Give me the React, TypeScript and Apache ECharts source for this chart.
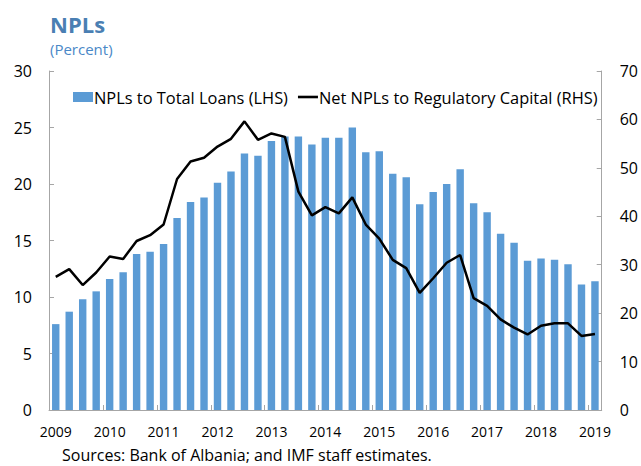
import React, { useEffect, useRef } from "react";
import * as echarts from "echarts";

const years = ["2009", "2010", "2011", "2012", "2013", "2014", "2015", "2016", "2017", "2018", "2019"];
const categories: string[] = [];
for (let i = 0; i < 41; i++) {
  categories.push(i % 4 === 0 ? years[i / 4] : years[Math.floor(i / 4)] + "Q" + ((i % 4) + 1));
}

const nplToLoans = [
  7.6, 8.7, 9.8, 10.5, 11.6, 12.2, 13.8, 14.0, 14.7, 17.0, 18.4, 18.8,
  20.1, 21.1, 22.7, 22.5, 23.8, 24.2, 24.2, 23.5, 24.1, 24.1, 25.0, 22.8,
  22.9, 20.9, 20.6, 18.2, 19.3, 20.0, 21.3, 18.3, 17.5, 15.6, 14.8, 13.2,
  13.4, 13.3, 12.9, 11.1, 11.4,
];

const netNplToCapital = [
  27.5, 29.1, 25.8, 28.4, 31.7, 31.2, 34.9, 36.1, 38.3, 47.7, 51.3, 52.1,
  54.4, 56.0, 59.6, 55.8, 57.1, 56.4, 45.1, 40.2, 41.9, 40.6, 43.9, 38.3,
  35.4, 31.0, 29.3, 24.2, 27.2, 30.4, 32.0, 23.1, 21.5, 18.7, 17.0, 15.6,
  17.4, 17.9, 17.9, 15.3, 15.7,
];

const FONT = "'Open Sans', 'Noto Sans', sans-serif";

export default function App() {
  const ref = useRef<HTMLDivElement>(null);
  useEffect(() => {
    document.body.style.margin = "0";
    const chart = echarts.init(ref.current!, null, { renderer: "svg" });
    const axisLine = { show: true, lineStyle: { color: "#a6a6a6", width: 1 } };
    const tick = { show: true, inside: true, length: 5, lineStyle: { color: "#a6a6a6" } };
    chart.setOption({
      animation: false,
      backgroundColor: "#ffffff",
      textStyle: { fontFamily: FONT },
      grid: { left: 49, right: 39, top: 71, bottom: 56, containLabel: false },
      graphic: [
        {
          type: "text",
          left: 50,
          top: 13,
          style: { text: "NPLs", fontFamily: FONT, fontWeight: "bold", fontSize: 22, fill: "#4a7fb3" },
        },
        {
          type: "text",
          left: 50,
          top: 41,
          style: { text: "(Percent)", fontFamily: FONT, fontSize: 15, fill: "#4a88c7" },
        },
        {
          type: "text",
          left: 62,
          top: 447,
          style: { text: "Sources: Bank of Albania; and IMF staff estimates.", fontFamily: FONT, fontSize: 16, fill: "#000" },
        },
      ],
      legend: {
        top: 84,
        left: 68,
        itemWidth: 20,
        itemHeight: 10,
        itemGap: 10,
        textStyle: { fontFamily: FONT, fontSize: 16.4, color: "#000", padding: [0, 0, 0, -4] },
        data: [
          { name: "NPLs to Total Loans (LHS)", icon: "rect" },
          { name: "Net NPLs to Regulatory Capital (RHS)", icon: "path://M0,0 L20,0 L20,2.6 L0,2.6 Z" },
        ],
      },
      xAxis: {
        type: "category",
        data: categories,
        boundaryGap: true,
        axisLine,
        axisTick: tick,
        axisLabel: {
          interval: 3,
          fontFamily: FONT,
          fontSize: 14,
          color: "#000",
          margin: 14,
          formatter: (v: string) => (v.indexOf("Q") >= 0 ? "" : v),
        },
        splitLine: { show: false },
      },
      yAxis: [
        {
          type: "value",
          min: 0,
          max: 30,
          interval: 5,
          position: "left",
          axisLine,
          axisTick: tick,
          axisLabel: { fontFamily: FONT, fontSize: 16, color: "#000", margin: 17 },
          splitLine: { show: false },
        },
        {
          type: "value",
          min: 0,
          max: 70,
          interval: 10,
          position: "right",
          axisLine,
          axisTick: tick,
          axisLabel: { fontFamily: FONT, fontSize: 16, color: "#000", margin: 18 },
          splitLine: { show: false },
        },
      ],
      series: [
        {
          name: "NPLs to Total Loans (LHS)",
          type: "bar",
          yAxisIndex: 0,
          data: nplToLoans,
          barCategoryGap: "45%",
          itemStyle: { color: "#5b9bd5" },
        },
        {
          name: "Net NPLs to Regulatory Capital (RHS)",
          type: "line",
          yAxisIndex: 1,
          data: netNplToCapital,
          symbol: "none",
          lineStyle: { color: "#000", width: 2.5 },
          itemStyle: { color: "#000" },
        },
      ],
    });
    return () => chart.dispose();
  }, []);
  return <div ref={ref} style={{ width: 641, height: 466 }} />;
}
